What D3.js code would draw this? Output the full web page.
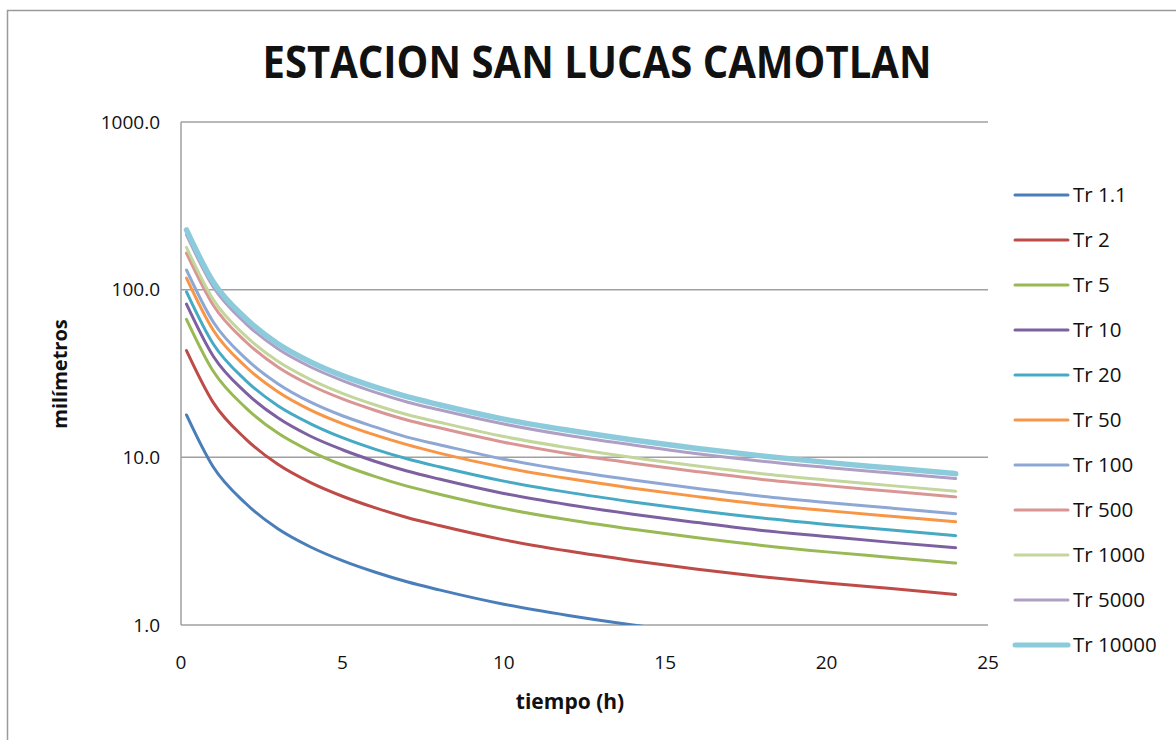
<!DOCTYPE html>
<html>
<head>
<meta charset="utf-8">
<script src="https://cdn.jsdelivr.net/npm/d3@7"></script>
<style>
  html, body { margin: 0; padding: 0; background: #fff; }
  svg { display: block; }
</style>
</head>
<body>
<div id="chart"></div>
<script>
const width = 1176, height = 740;

// duration in hours
const tiempo = [0.17, 1, 2, 3, 4, 5, 6, 7, 8, 10, 12, 14, 16, 18, 20, 22, 24];

const tr1_1   = [17.9, 8.75, 5.32, 3.75, 2.93, 2.42, 2.07, 1.81, 1.62, 1.33, 1.14, 1.00, 0.89, 0.80, 0.735, 0.68, 0.63];
const tr2     = [43.3, 21.2, 12.9, 9.08, 7.09, 5.86, 5.01, 4.38, 3.92, 3.22, 2.76, 2.42, 2.15, 1.94, 1.78, 1.65, 1.52];
const tr5     = [66.6, 32.6, 19.8, 13.95, 10.9, 9.00, 7.70, 6.73, 6.03, 4.95, 4.24, 3.72, 3.31, 2.98, 2.73, 2.53, 2.34];
const tr10    = [82.0, 40.1, 24.4, 17.2, 13.4, 11.1, 9.48, 8.29, 7.42, 6.09, 5.22, 4.58, 4.08, 3.66, 3.37, 3.11, 2.89];
const tr20    = [97.0, 47.4, 28.8, 20.3, 15.9, 13.1, 11.2, 9.81, 8.78, 7.21, 6.18, 5.42, 4.82, 4.34, 3.98, 3.69, 3.41];
const tr50    = [117.2, 57.3, 34.8, 24.6, 19.2, 15.9, 13.6, 11.9, 10.6, 8.71, 7.47, 6.55, 5.83, 5.24, 4.81, 4.45, 4.13];
const tr100   = [131.0, 64.1, 38.9, 27.5, 21.4, 17.7, 15.2, 13.2, 11.9, 9.74, 8.34, 7.32, 6.51, 5.86, 5.38, 4.98, 4.61];
const tr500   = [165.2, 80.8, 49.1, 34.6, 27.0, 22.3, 19.1, 16.7, 15.0, 12.3, 10.5, 9.23, 8.21, 7.38, 6.78, 6.28, 5.81];
const tr1000  = [178.5, 87.2, 53.0, 37.4, 29.2, 24.1, 20.6, 18.0, 16.2, 13.3, 11.4, 9.97, 8.87, 7.98, 7.33, 6.78, 6.28];
const tr5000  = [212.1, 103.7, 63.0, 44.4, 34.7, 28.7, 24.5, 21.4, 19.2, 15.8, 13.5, 11.85, 10.5, 9.48, 8.71, 8.06, 7.47];
const tr10000 = [227.2, 111.0, 67.5, 47.6, 37.2, 30.7, 26.3, 23.0, 20.6, 16.9, 14.5, 12.7, 11.3, 10.2, 9.33, 8.63, 7.99];

const seriesNames = ['Tr 1.1', 'Tr 2', 'Tr 5', 'Tr 10', 'Tr 20', 'Tr 50', 'Tr 100', 'Tr 500', 'Tr 1000', 'Tr 5000', 'Tr 10000'];
const seriesValues = [tr1_1, tr2, tr5, tr10, tr20, tr50, tr100, tr500, tr1000, tr5000, tr10000];
const seriesColors = ['#4a7ebb', '#be4b48', '#98b954', '#7d60a0', '#46aac5', '#f79646',
                      '#8ea8d6', '#d99694', '#c3d69b', '#b09fc5', '#8ccbdb'];

const xTicks = [0, 5, 10, 15, 20, 25];
const yTicks = [1, 10, 100, 1000];

const plot = { left: 181, right: 988, top: 122, bottom: 625 };

const svg = d3.select('#chart').append('svg')
  .attr('width', width)
  .attr('height', height);

// chart frame (only top and left edges fall inside the picture)
svg.append('rect')
  .attr('x', 7.5).attr('y', 10.5)
  .attr('width', width + 20).attr('height', height + 20)
  .attr('fill', '#fff')
  .attr('stroke', '#9a9a9a')
  .attr('stroke-width', 1.5);

const x = d3.scaleLinear().domain([0, 25]).range([plot.left, plot.right]);
const y = d3.scaleLog().domain([1, 1000]).range([plot.bottom, plot.top]);

// horizontal gridlines
svg.append('g')
  .selectAll('line')
  .data(yTicks.filter(d => d > 1))
  .join('line')
  .attr('x1', plot.left).attr('x2', plot.right)
  .attr('y1', d => y(d)).attr('y2', d => y(d))
  .attr('stroke', '#a0a0a0')
  .attr('stroke-width', 1.5);

// axes lines
svg.append('line')
  .attr('x1', plot.left).attr('x2', plot.left)
  .attr('y1', plot.top).attr('y2', plot.bottom)
  .attr('stroke', '#a0a0a0').attr('stroke-width', 1.5);
svg.append('line')
  .attr('x1', plot.left).attr('x2', plot.right)
  .attr('y1', plot.bottom).attr('y2', plot.bottom)
  .attr('stroke', '#a0a0a0').attr('stroke-width', 1.5);

// tick labels
const tickFont = '"Open Sans", "Noto Sans", sans-serif';
svg.append('g')
  .selectAll('text')
  .data(yTicks)
  .join('text')
  .attr('x', 160)
  .attr('y', d => y(d))
  .attr('dy', '0.35em')
  .attr('text-anchor', 'end')
  .attr('font-family', tickFont)
  .attr('font-size', 19)
  .attr('fill', '#111')
  .text(d => d3.format('.1f')(d));

svg.append('g')
  .selectAll('text')
  .data(xTicks)
  .join('text')
  .attr('x', d => x(d))
  .attr('y', 662)
  .attr('dy', '0.35em')
  .attr('text-anchor', 'middle')
  .attr('font-family', tickFont)
  .attr('font-size', 19)
  .attr('fill', '#111')
  .text(d => d);

// axis titles
svg.append('text')
  .attr('x', 570).attr('y', 702)
  .attr('dy', '0.35em')
  .attr('text-anchor', 'middle')
  .attr('font-family', tickFont)
  .attr('font-weight', 'bold')
  .attr('font-size', 21)
  .attr('fill', '#111')
  .text('tiempo (h)');

svg.append('text')
  .attr('transform', 'translate(60,374) rotate(-90)')
  .attr('dy', '0.35em')
  .attr('text-anchor', 'middle')
  .attr('font-family', tickFont)
  .attr('font-weight', 'bold')
  .attr('font-size', 20)
  .attr('fill', '#111')
  .text('milímetros');

// title
svg.append('text')
  .attr('x', 597).attr('y', 78)
  .attr('text-anchor', 'middle')
  .attr('font-family', '"Liberation Sans Narrow", "Open Sans", sans-serif')
  .attr('font-weight', 'bold')
  .attr('font-size', 45)
  .attr('textLength', 669)
  .attr('lengthAdjust', 'spacingAndGlyphs')
  .attr('fill', '#111')
  .text('ESTACION SAN LUCAS CAMOTLAN');

// series
svg.append('clipPath').attr('id', 'plotClip')
  .append('rect')
  .attr('x', plot.left).attr('y', plot.top - 5)
  .attr('width', plot.right - plot.left).attr('height', plot.bottom - plot.top + 5);

const line = d3.line()
  .x((d, i) => x(tiempo[i]))
  .y(d => y(d))
  .curve(d3.curveMonotoneX);

svg.append('g')
  .attr('clip-path', 'url(#plotClip)')
  .selectAll('path')
  .data(seriesValues)
  .join('path')
  .attr('d', d => line(d))
  .attr('fill', 'none')
  .attr('stroke', (d, i) => seriesColors[i])
  .attr('stroke-width', (d, i) => i === seriesValues.length - 1 ? 5.5 : 3)
  .attr('stroke-linejoin', 'round')
  .attr('stroke-linecap', 'round');

// legend
const legend = svg.append('g')
  .selectAll('g')
  .data(seriesNames)
  .join('g')
  .attr('transform', (d, i) => `translate(1015,${195 + i * 45})`);

legend.append('line')
  .attr('x1', 0).attr('x2', 53)
  .attr('stroke', (d, i) => seriesColors[i])
  .attr('stroke-width', (d, i) => i === seriesNames.length - 1 ? 5 : 3)
  .attr('stroke-linecap', 'round');

legend.append('text')
  .attr('x', 58)
  .attr('dy', '0.35em')
  .attr('font-family', tickFont)
  .attr('font-size', 20.5)
  .attr('fill', '#111')
  .text(d => d);
</script>
</body>
</html>
